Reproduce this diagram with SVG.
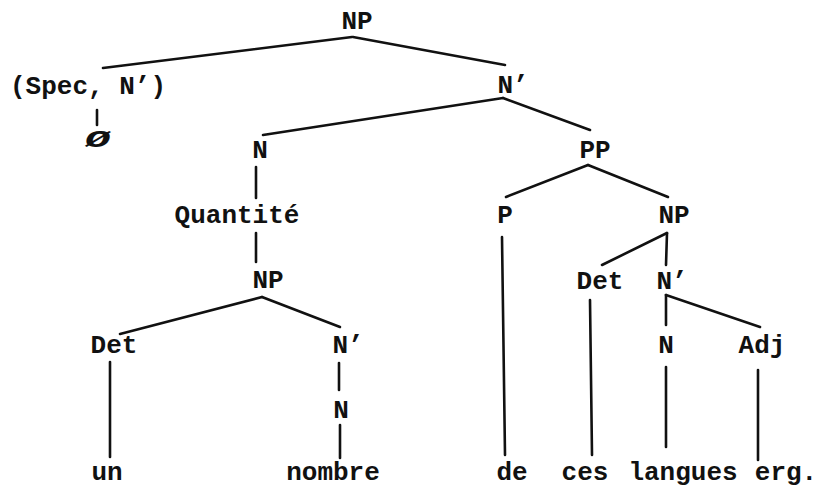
<svg xmlns="http://www.w3.org/2000/svg" width="821" height="489" viewBox="0 0 821 489">
<style>
text{font-family:"Liberation Mono","DejaVu Sans Mono",monospace;font-size:26px;font-weight:bold;fill:#111;text-anchor:middle}
.e line{stroke:#111;stroke-width:2.6;stroke-linecap:round}
</style>
<rect width="821" height="489" fill="#fff"/>
<g class="e" id="connectors">
<line x1="352" y1="37" x2="103" y2="68"/>
<line x1="353" y1="37" x2="505" y2="65"/>
<line x1="97" y1="110" x2="97" y2="125"/>
<line x1="503" y1="98" x2="263" y2="135"/>
<line x1="503" y1="98" x2="590" y2="130"/>
<line x1="256" y1="167" x2="256" y2="198"/>
<line x1="256" y1="233" x2="256" y2="262"/>
<line x1="262" y1="297" x2="120" y2="334"/>
<line x1="262" y1="297" x2="340" y2="327"/>
<line x1="110" y1="362" x2="110" y2="457"/>
<line x1="339" y1="363" x2="339" y2="390"/>
<line x1="340" y1="425" x2="340" y2="458"/>
<line x1="588" y1="165" x2="506" y2="197"/>
<line x1="588" y1="165" x2="668" y2="197"/>
<line x1="667" y1="233" x2="602" y2="265"/>
<line x1="667" y1="233" x2="666" y2="265"/>
<line x1="666" y1="295" x2="666" y2="325"/>
<line x1="666" y1="295" x2="760" y2="327"/>
<line x1="502" y1="237" x2="505" y2="455"/>
<line x1="590" y1="300" x2="592" y2="455"/>
<line x1="666" y1="367" x2="666" y2="447"/>
<line x1="758" y1="370" x2="758" y2="460"/>
</g>
<g id="np-top"><text x="357" y="29">NP</text></g>
<g id="spec"><text x="88" y="94">(Spec, N’)</text></g>
<g id="empty"><text transform="translate(98,147) scale(1.7,1.15)" font-style="italic">ø</text></g>
<g id="nbar-top"><text x="513" y="93">N’</text></g>
<g id="n-left"><text x="260" y="158">N</text></g>
<g id="pp"><text x="595" y="158">PP</text></g>
<g id="quantite"><text x="237" y="223">Quantité</text></g>
<g id="p"><text x="505" y="223">P</text></g>
<g id="np-right"><text x="674" y="223">NP</text></g>
<g id="np-low"><text x="268" y="288">NP</text></g>
<g id="det-right"><text x="600" y="289">Det</text></g>
<g id="nbar-right"><text x="672" y="289">N’</text></g>
<g id="det-left"><text x="114" y="353">Det</text></g>
<g id="nbar-left"><text x="348" y="353">N’</text></g>
<g id="n-right"><text x="666" y="353">N</text></g>
<g id="adj"><text x="762" y="353">Adj</text></g>
<g id="n-low"><text x="341" y="418">N</text></g>
<g id="un"><text x="107" y="480">un</text></g>
<g id="nombre"><text x="333" y="480">nombre</text></g>
<g id="de"><text x="512" y="480">de</text></g>
<g id="ces"><text x="585" y="480">ces</text></g>
<g id="langues"><text x="683" y="480">langues</text></g>
<g id="erg"><text x="786" y="480">erg.</text></g>
</svg>
